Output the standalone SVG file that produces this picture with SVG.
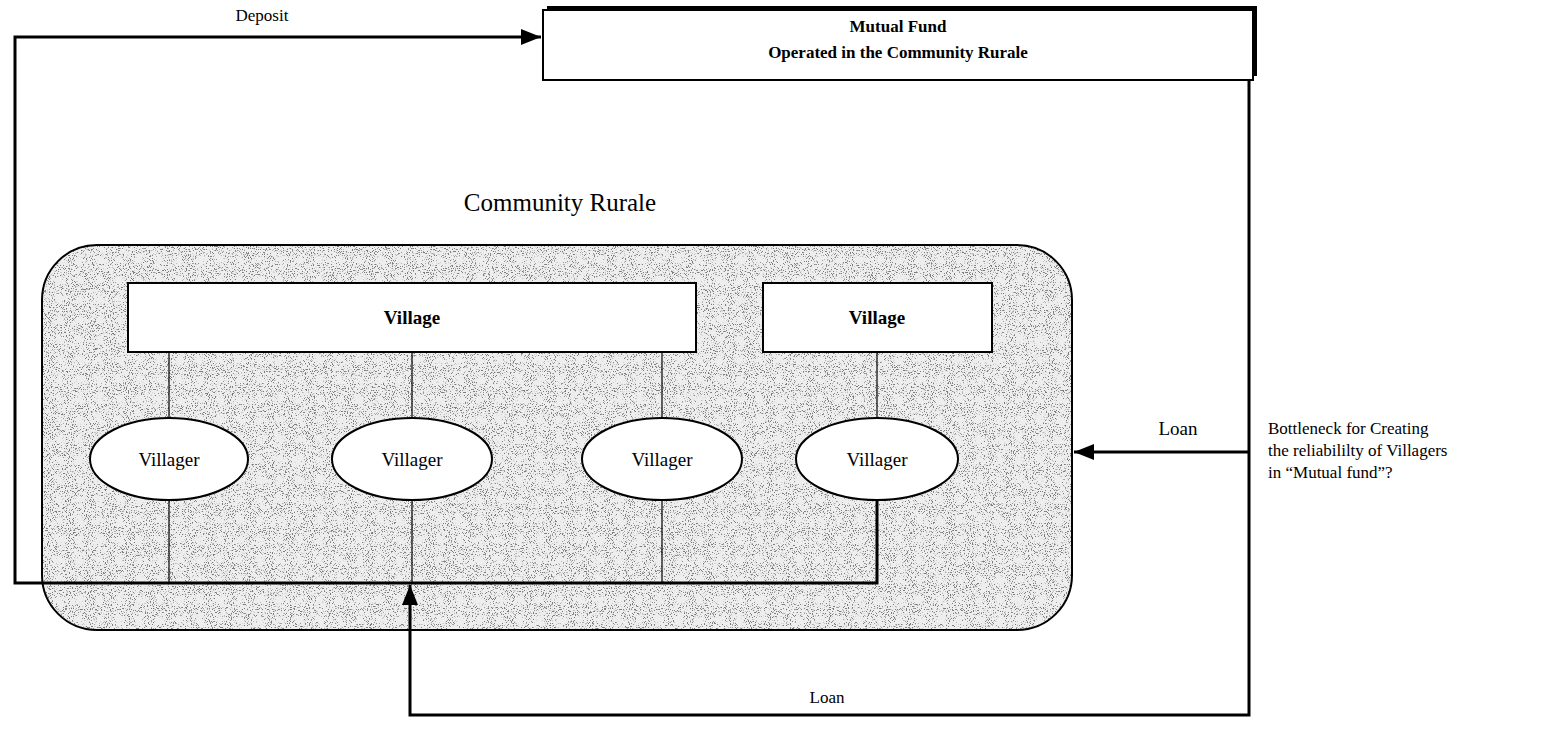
<svg xmlns="http://www.w3.org/2000/svg" width="1560" height="731" viewBox="0 0 1560 731">
  <style>
    .lbl { font-family: "Liberation Serif", "Times New Roman", serif; font-size: 17px; fill: #000; }
    .bold { font-weight: bold; }
    .big { font-size: 25px; }
    .mid { font-size: 19px; }
    .wire { fill: none; stroke: #000; stroke-width: 3; }
    .thin { fill: none; stroke: #000; stroke-width: 1.2; }
    .box { fill: #fff; stroke: #000; stroke-width: 2; }
  </style>
  <defs>
    <marker id="head" viewBox="0 0 20 16" refX="20" refY="8" markerWidth="20" markerHeight="16" markerUnits="userSpaceOnUse" orient="auto">
      <path d="M0,0 L20,8 L0,16 Z" fill="#000"/>
    </marker>
    <filter id="grain" x="0" y="0" width="100%" height="100%">
      <feTurbulence type="fractalNoise" baseFrequency="0.95" numOctaves="2" seed="7" result="n"/>
      <feColorMatrix in="n" type="matrix" values="0 0 0 0 0.2  0 0 0 0 0.2  0 0 0 0 0.2  10 0 0 0 -5.8" result="dots"/>
      <feComposite in="dots" in2="SourceGraphic" operator="in"/>
    </filter>
    <clipPath id="communeClip">
      <rect x="42" y="245" width="1030" height="385" rx="55" ry="55"/>
    </clipPath>
  </defs>

  <rect width="1560" height="731" fill="#fff"/>

  <!-- community area with stippled fill -->
  <g id="community">
    <rect x="42" y="245" width="1030" height="385" rx="55" ry="55" fill="#eeeeee"/>
    <rect x="42" y="245" width="1030" height="385" fill="#000" filter="url(#grain)" clip-path="url(#communeClip)"/>
    <rect x="42" y="245" width="1030" height="385" rx="55" ry="55" fill="none" stroke="#000" stroke-width="2"/>
    <text class="lbl big" x="560" y="211" text-anchor="middle">Community Rurale</text>
  </g>

  <!-- connectors -->
  <g id="connectors">
    <!-- deposit loop from villagers to the fund -->
    <path class="wire" d="M877,498 V583 H15 V37 H541" marker-end="url(#head)"/>
    <!-- links village to villagers and villagers to bus -->
    <path class="thin" d="M169,352 V418 M412,352 V418 M662,352 V418 M877,352 V418"/>
    <path class="thin" d="M169,500 V583 M412,500 V583 M662,500 V583"/>
    <!-- loan back into the community -->
    <path class="wire" d="M1249,80 V715 H410 V585" marker-end="url(#head)"/>
    <path class="wire" d="M1249,452 H1074" marker-end="url(#head)"/>
  </g>

  <!-- fund box with shadow -->
  <g id="fund">
    <rect x="547" y="6" width="710" height="70" fill="#000"/>
    <rect x="543" y="10" width="710" height="70" class="box"/>
    <text class="lbl bold" x="898" y="32" text-anchor="middle">Mutual Fund</text>
    <text class="lbl bold" x="898" y="58" text-anchor="middle">Operated in the Community Rurale</text>
  </g>

  <g id="village-a">
    <rect x="128" y="283" width="568" height="69" class="box"/>
    <text class="lbl bold mid" x="412" y="324" text-anchor="middle">Village</text>
  </g>
  <g id="village-b">
    <rect x="763" y="283" width="229" height="69" class="box"/>
    <text class="lbl bold mid" x="877" y="324" text-anchor="middle">Village</text>
  </g>

  <g id="villager-1">
    <ellipse cx="169" cy="459" rx="79" ry="41" class="box"/>
    <text class="lbl mid" x="169" y="466" text-anchor="middle">Villager</text>
  </g>
  <g id="villager-2">
    <ellipse cx="412" cy="459" rx="80" ry="41" class="box"/>
    <text class="lbl mid" x="412" y="466" text-anchor="middle">Villager</text>
  </g>
  <g id="villager-3">
    <ellipse cx="662" cy="459" rx="80" ry="41" class="box"/>
    <text class="lbl mid" x="662" y="466" text-anchor="middle">Villager</text>
  </g>
  <g id="villager-4">
    <ellipse cx="877" cy="459" rx="81" ry="41" class="box"/>
    <text class="lbl mid" x="877" y="466" text-anchor="middle">Villager</text>
  </g>

  <!-- labels -->
  <g id="labels">
    <text class="lbl" x="262" y="21" text-anchor="middle">Deposit</text>
    <text class="lbl mid" x="1178" y="435" text-anchor="middle">Loan</text>
    <text class="lbl" x="827" y="703" text-anchor="middle">Loan</text>
    <text class="lbl" x="1268" y="434">Bottleneck for Creating</text>
    <text class="lbl" x="1268" y="456">the reliabililty of Villagers</text>
    <text class="lbl" x="1268" y="478">in “Mutual fund”?</text>
  </g>
</svg>
